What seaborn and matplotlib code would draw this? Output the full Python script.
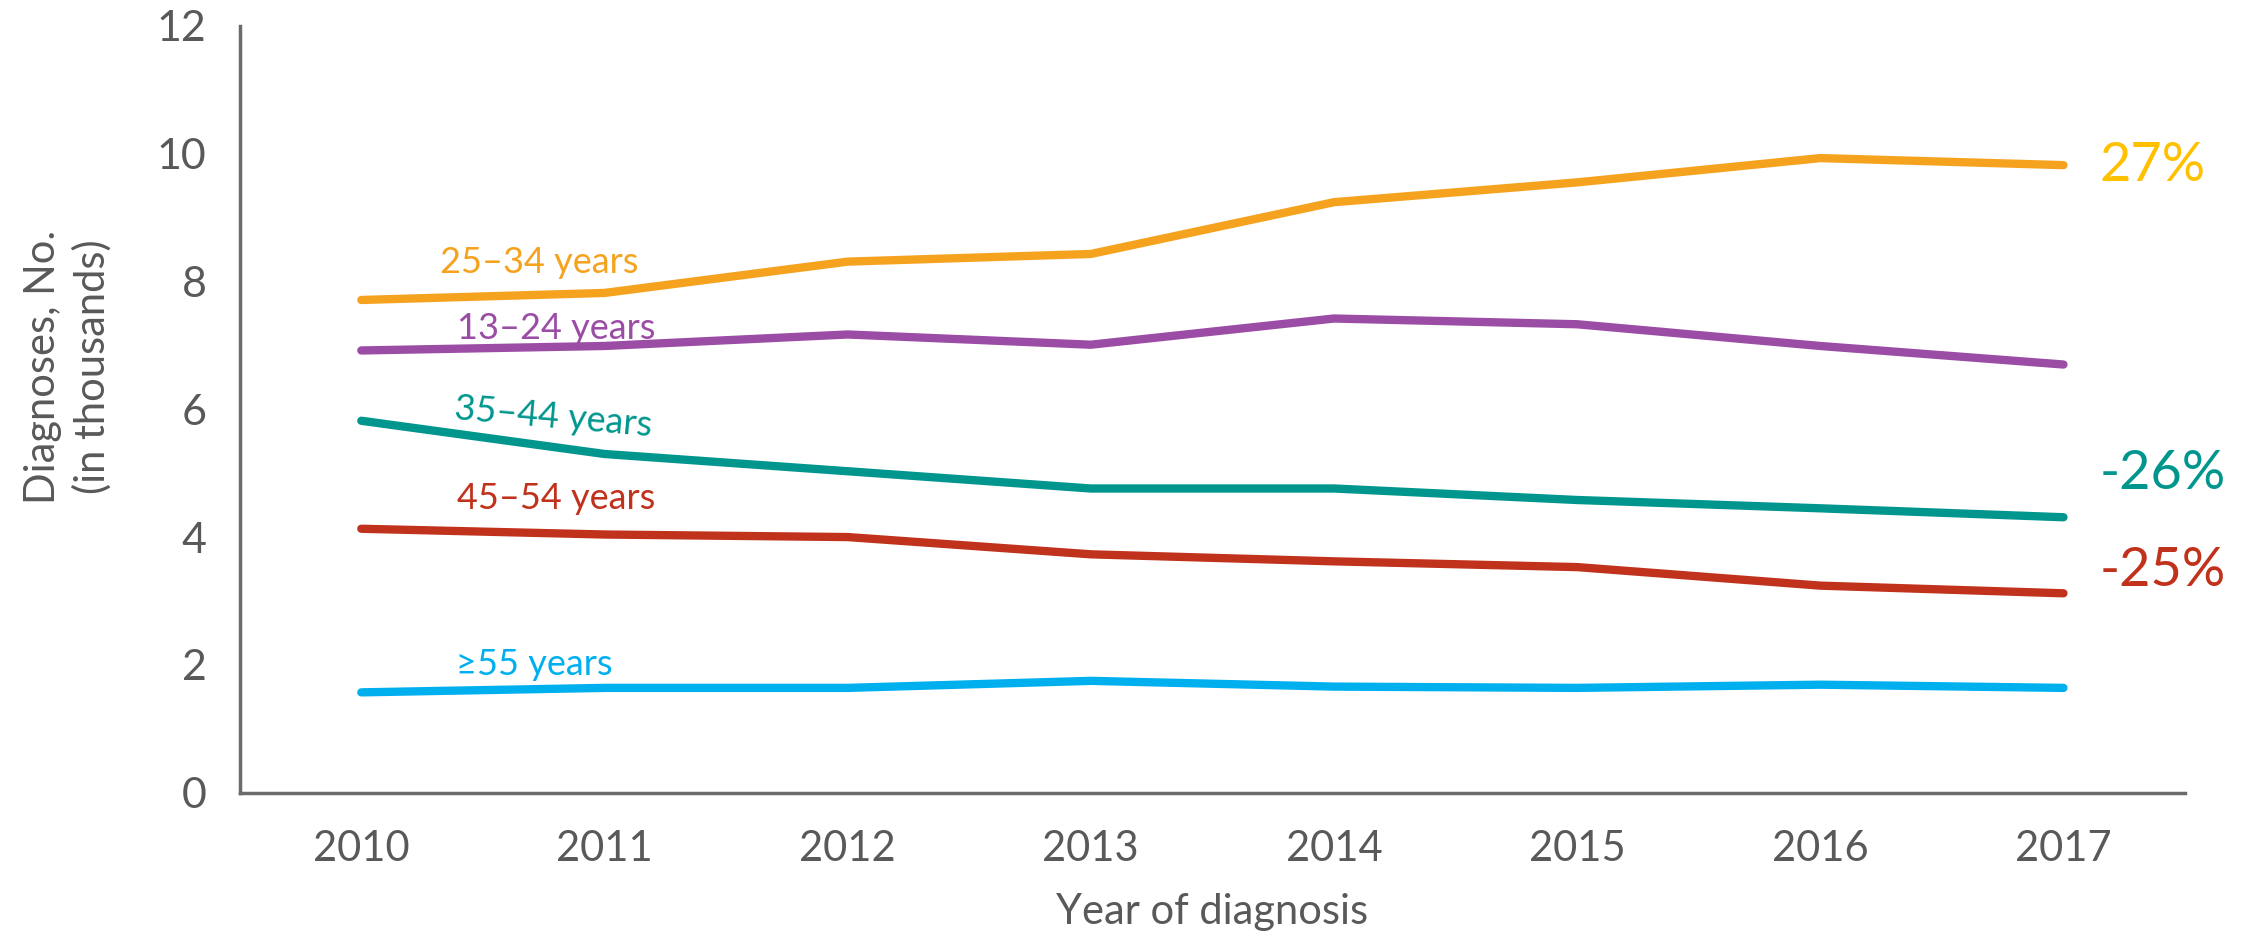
import numpy as np
import pandas as pd
import matplotlib
matplotlib.use("Agg")
import matplotlib.pyplot as plt
import seaborn as sns

# data (thousands of diagnoses)
years = [2010, 2011, 2012, 2013, 2014, 2015, 2016, 2017]
groups = ["25–34 years", "13–24 years", "35–44 years", "45–54 years", "≥55 years"]
age_25_34 = [7.71, 7.82, 8.31, 8.43, 9.24, 9.55, 9.93, 9.82]
age_13_24 = [6.92, 6.99, 7.17, 7.01, 7.42, 7.33, 6.99, 6.70]
age_35_44 = [5.82, 5.30, 5.03, 4.76, 4.76, 4.58, 4.45, 4.31]
age_45_54 = [4.13, 4.04, 4.00, 3.73, 3.62, 3.53, 3.24, 3.12]
age_55_up = [1.57, 1.64, 1.64, 1.75, 1.66, 1.64, 1.69, 1.64]
pct_labels = ["27%", "-26%", "-25%"]
pct_groups = ["25–34 years", "35–44 years", "45–54 years"]

colors = {
    "25–34 years": "#F5A31F",
    "13–24 years": "#9B4DA6",
    "35–44 years": "#00968E",
    "45–54 years": "#C0321C",
    "≥55 years": "#00B0EE",
}
pct_colors = {"25–34 years": "#FFC000", "35–44 years": "#00968E", "45–54 years": "#C0321C"}

df = pd.DataFrame({
    "year": years * 5,
    "group": np.repeat(groups, len(years)),
    "value": age_25_34 + age_13_24 + age_35_44 + age_45_54 + age_55_up,
})

sns.set_style("white")
plt.rcParams["font.family"] = ["Lato", "DejaVu Sans"]
grey = "#595959"

fig = plt.figure(figsize=(22.51, 9.42), dpi=100)
ax = fig.add_axes([0.1065, 0.1585, 0.8642, 0.8141])

sns.lineplot(data=df, x="year", y="value", hue="group", palette=colors,
             linewidth=6, legend=False, ax=ax, solid_capstyle="round")

ax.set_xlim(2009.5, 2017.5)
ax.set_ylim(0, 12)
ax.set_yticks(range(0, 13, 2))
ax.set_xticks(years)
ax.set_xticks(np.arange(2009.5, 2018, 1), minor=True)
ax.tick_params(axis="x", which="major", length=0, pad=27, labelsize=30, labelcolor=grey)
ax.tick_params(axis="x", which="minor", length=12, width=2, color="#6b6b6b", direction="out")
ax.tick_params(axis="y", length=12, width=2, color="#6b6b6b", direction="out",
               labelsize=31, labelcolor=grey, pad=12)

for s in ["top", "right"]:
    ax.spines[s].set_visible(False)
for s in ["left", "bottom"]:
    ax.spines[s].set_color("#6b6b6b")
    ax.spines[s].set_linewidth(2.5)

ax.set_xlabel("Year of diagnosis", fontsize=30, color=grey, labelpad=18)
ax.set_ylabel("Diagnoses, No.\n(in thousands)", fontsize=30, color=grey,
              linespacing=1.3)
ax.yaxis.set_label_coords(-0.066, 0.555)

# line labels
label_pos = {
    "25–34 years": (2010.73, 8.29, 0),
    "13–24 years": (2010.80, 7.26, 0),
    "35–44 years": (2010.79, 5.87, -5),
    "45–54 years": (2010.80, 4.61, 0),
    "≥55 years": (2010.71, 2.00, 0),
}
for g in groups:
    x, y, rot = label_pos[g]
    ax.text(x, y, g, color=colors[g], fontsize=26, ha="center", va="center", rotation=rot)

pct_y = [9.82, 4.99, 3.48]
for lab, g, y in zip(pct_labels, pct_groups, pct_y):
    ax.text(2017.15, y, lab, color=pct_colors[g], fontsize=39, ha="left", va="center",
            clip_on=False)

fig.savefig("out.png", dpi=100)
